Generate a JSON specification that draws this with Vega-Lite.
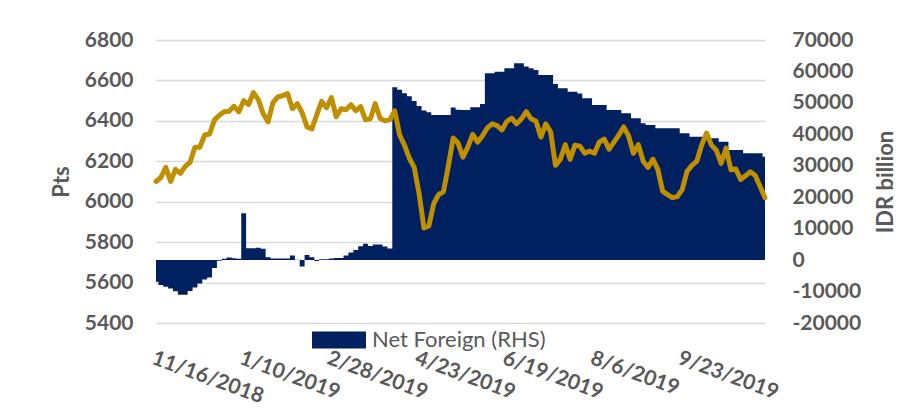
{
  "$schema": "https://vega.github.io/schema/vega-lite/v6.json",
  "width": 609,
  "height": 283,
  "autosize": {"type": "none"},
  "padding": {"left": 156, "top": 40, "right": 155, "bottom": 96},
  "background": "white",
  "config": {"view": {"stroke": null}, "font": "Lato"},
  "data": {"values": [
    {"date": "11/16/2018", "jci": 6100, "nf": -6900},
    {"date": "11/20/2018", "jci": 6120, "nf": -7900},
    {"date": "11/22/2018", "jci": 6170, "nf": -8500},
    {"date": "11/26/2018", "jci": 6100, "nf": -9000},
    {"date": "11/28/2018", "jci": 6160, "nf": -9900},
    {"date": "11/30/2018", "jci": 6140, "nf": -11000},
    {"date": "12/4/2018", "jci": 6175, "nf": -11000},
    {"date": "12/6/2018", "jci": 6195, "nf": -9800},
    {"date": "12/10/2018", "jci": 6270, "nf": -8700},
    {"date": "12/12/2018", "jci": 6270, "nf": -7400},
    {"date": "12/14/2018", "jci": 6330, "nf": -6200},
    {"date": "12/18/2018", "jci": 6335, "nf": -5500},
    {"date": "12/20/2018", "jci": 6405, "nf": -2500},
    {"date": "12/26/2018", "jci": 6428, "nf": -200},
    {"date": "12/28/2018", "jci": 6445, "nf": 400},
    {"date": "1/3/2019", "jci": 6448, "nf": 800},
    {"date": "1/7/2019", "jci": 6472, "nf": 600},
    {"date": "1/8/2019", "jci": 6445, "nf": 400},
    {"date": "1/10/2019", "jci": 6500, "nf": 14900},
    {"date": "1/14/2019", "jci": 6480, "nf": 3800},
    {"date": "1/16/2019", "jci": 6540, "nf": 3800},
    {"date": "1/18/2019", "jci": 6505, "nf": 3900},
    {"date": "1/22/2019", "jci": 6435, "nf": 3600},
    {"date": "1/24/2019", "jci": 6395, "nf": 900},
    {"date": "1/28/2019", "jci": 6490, "nf": 500},
    {"date": "1/30/2019", "jci": 6518, "nf": 500},
    {"date": "2/1/2019", "jci": 6525, "nf": 500},
    {"date": "2/6/2019", "jci": 6535, "nf": 500},
    {"date": "2/8/2019", "jci": 6460, "nf": 1500},
    {"date": "2/12/2019", "jci": 6485, "nf": 100},
    {"date": "2/14/2019", "jci": 6440, "nf": -2000},
    {"date": "2/18/2019", "jci": 6370, "nf": 1600},
    {"date": "2/20/2019", "jci": 6360, "nf": 900},
    {"date": "2/22/2019", "jci": 6430, "nf": -300},
    {"date": "2/25/2019", "jci": 6496, "nf": 300},
    {"date": "2/27/2019", "jci": 6465, "nf": 300},
    {"date": "2/28/2019", "jci": 6515, "nf": 500},
    {"date": "3/4/2019", "jci": 6420, "nf": 700},
    {"date": "3/6/2019", "jci": 6460, "nf": 700},
    {"date": "3/8/2019", "jci": 6455, "nf": 1500},
    {"date": "3/12/2019", "jci": 6480, "nf": 2400},
    {"date": "3/14/2019", "jci": 6450, "nf": 3200},
    {"date": "3/18/2019", "jci": 6470, "nf": 4400},
    {"date": "3/20/2019", "jci": 6405, "nf": 5200},
    {"date": "3/22/2019", "jci": 6410, "nf": 4500},
    {"date": "3/26/2019", "jci": 6485, "nf": 5000},
    {"date": "3/28/2019", "jci": 6413, "nf": 5000},
    {"date": "4/1/2019", "jci": 6400, "nf": 4300},
    {"date": "4/4/2019", "jci": 6405, "nf": 3700},
    {"date": "4/8/2019", "jci": 6450, "nf": 55000},
    {"date": "4/10/2019", "jci": 6330, "nf": 54200},
    {"date": "4/12/2019", "jci": 6280, "nf": 53100},
    {"date": "4/16/2019", "jci": 6215, "nf": 52100},
    {"date": "4/18/2019", "jci": 6170, "nf": 50600},
    {"date": "4/23/2019", "jci": 6040, "nf": 49000},
    {"date": "4/25/2019", "jci": 5870, "nf": 47600},
    {"date": "4/29/2019", "jci": 5880, "nf": 47000},
    {"date": "5/2/2019", "jci": 5990, "nf": 46150},
    {"date": "5/6/2019", "jci": 6035, "nf": 46150},
    {"date": "5/8/2019", "jci": 6050, "nf": 46150},
    {"date": "5/10/2019", "jci": 6175, "nf": 46150},
    {"date": "5/14/2019", "jci": 6315, "nf": 48500},
    {"date": "5/16/2019", "jci": 6290, "nf": 47800},
    {"date": "5/20/2019", "jci": 6220, "nf": 47700},
    {"date": "5/22/2019", "jci": 6270, "nf": 47700},
    {"date": "5/24/2019", "jci": 6333, "nf": 48600},
    {"date": "5/28/2019", "jci": 6295, "nf": 48600},
    {"date": "5/31/2019", "jci": 6325, "nf": 49650},
    {"date": "6/10/2019", "jci": 6365, "nf": 59400},
    {"date": "6/12/2019", "jci": 6385, "nf": 59400},
    {"date": "6/14/2019", "jci": 6376, "nf": 59900},
    {"date": "6/17/2019", "jci": 6355, "nf": 59900},
    {"date": "6/19/2019", "jci": 6397, "nf": 61000},
    {"date": "6/21/2019", "jci": 6413, "nf": 61000},
    {"date": "6/25/2019", "jci": 6385, "nf": 62600},
    {"date": "6/27/2019", "jci": 6410, "nf": 62600},
    {"date": "7/1/2019", "jci": 6445, "nf": 61550},
    {"date": "7/3/2019", "jci": 6410, "nf": 61000},
    {"date": "7/5/2019", "jci": 6398, "nf": 60460},
    {"date": "7/9/2019", "jci": 6320, "nf": 58870},
    {"date": "7/11/2019", "jci": 6385, "nf": 58870},
    {"date": "7/15/2019", "jci": 6345, "nf": 58870},
    {"date": "7/17/2019", "jci": 6180, "nf": 56000},
    {"date": "7/19/2019", "jci": 6210, "nf": 54640},
    {"date": "7/23/2019", "jci": 6282, "nf": 54640},
    {"date": "7/25/2019", "jci": 6210, "nf": 53560},
    {"date": "7/26/2019", "jci": 6280, "nf": 53560},
    {"date": "7/30/2019", "jci": 6275, "nf": 53000},
    {"date": "8/1/2019", "jci": 6240, "nf": 51450},
    {"date": "8/5/2019", "jci": 6250, "nf": 51450},
    {"date": "8/6/2019", "jci": 6240, "nf": 49330},
    {"date": "8/8/2019", "jci": 6295, "nf": 49330},
    {"date": "8/12/2019", "jci": 6310, "nf": 49330},
    {"date": "8/14/2019", "jci": 6260, "nf": 47740},
    {"date": "8/16/2019", "jci": 6295, "nf": 47740},
    {"date": "8/20/2019", "jci": 6330, "nf": 47740},
    {"date": "8/22/2019", "jci": 6370, "nf": 46680},
    {"date": "8/26/2019", "jci": 6325, "nf": 46680},
    {"date": "8/28/2019", "jci": 6240, "nf": 45100},
    {"date": "8/30/2019", "jci": 6282, "nf": 45100},
    {"date": "9/3/2019", "jci": 6200, "nf": 43500},
    {"date": "9/5/2019", "jci": 6170, "nf": 42970},
    {"date": "9/9/2019", "jci": 6210, "nf": 42970},
    {"date": "9/11/2019", "jci": 6160, "nf": 41900},
    {"date": "9/13/2019", "jci": 6052, "nf": 41900},
    {"date": "9/16/2019", "jci": 6035, "nf": 41900},
    {"date": "9/18/2019", "jci": 6020, "nf": 41900},
    {"date": "9/20/2019", "jci": 6025, "nf": 41900},
    {"date": "9/23/2019", "jci": 6060, "nf": 40330},
    {"date": "9/25/2019", "jci": 6150, "nf": 40330},
    {"date": "9/27/2019", "jci": 6180, "nf": 39250},
    {"date": "10/1/2019", "jci": 6200, "nf": 39250},
    {"date": "10/3/2019", "jci": 6280, "nf": 39250},
    {"date": "10/7/2019", "jci": 6340, "nf": 38740},
    {"date": "10/9/2019", "jci": 6280, "nf": 38740},
    {"date": "10/11/2019", "jci": 6255, "nf": 38740},
    {"date": "10/15/2019", "jci": 6190, "nf": 37660},
    {"date": "10/17/2019", "jci": 6265, "nf": 37660},
    {"date": "10/21/2019", "jci": 6158, "nf": 35020},
    {"date": "10/23/2019", "jci": 6162, "nf": 35020},
    {"date": "10/25/2019", "jci": 6110, "nf": 35020},
    {"date": "10/29/2019", "jci": 6128, "nf": 33970},
    {"date": "10/31/2019", "jci": 6148, "nf": 33970},
    {"date": "11/4/2019", "jci": 6130, "nf": 33970},
    {"date": "11/6/2019", "jci": 6075, "nf": 33970},
    {"date": "11/8/2019", "jci": 6020, "nf": 32890}
  ]},
  "encoding": {
    "x": {
      "field": "date",
      "type": "ordinal",
      "sort": null,
      "scale": {"type": "point", "padding": 0},
      "axis": {
        "values": ["11/16/2018", "1/10/2019", "2/28/2019", "4/23/2019", "6/19/2019", "8/6/2019", "9/23/2019"],
        "labelAngle": 20,
        "labelAlign": "left",
        "labelBaseline": "top",
        "labelPadding": 24,
        "ticks": false,
        "domain": false,
        "grid": false,
        "title": null,
        "labelFont": "Lato",
        "labelFontWeight": "bold",
        "labelFontSize": 21,
        "labelColor": "#595959",
        "labelOverlap": false
      }
    }
  },
  "layer": [
    {
      "mark": {"type": "area", "interpolate": "step"},
      "encoding": {
        "y": {
          "field": "nf",
          "type": "quantitative",
          "scale": {"domain": [-20000, 70000], "nice": false, "zero": false},
          "axis": {
            "orient": "right",
            "values": [-20000, -10000, 0, 10000, 20000, 30000, 40000, 50000, 60000, 70000],
            "labelExpr": "toString(datum.value)",
            "grid": false,
            "domain": false,
            "ticks": false,
            "labelPadding": 27,
            "labelFont": "Lato",
            "labelFontWeight": "bold",
            "labelFontSize": 21,
            "labelColor": "#595959",
            "title": "IDR billion",
            "titleAngle": 270,
            "titleFont": "Lato",
            "titleFontSize": 22,
            "titleFontWeight": "bold",
            "titleColor": "#595959",
            "titlePadding": 37
          }
        },
        "color": {
          "datum": "Net Foreign (RHS)",
          "type": "nominal",
          "scale": {"range": ["#002060"]},
          "legend": {
            "orient": "none",
            "legendX": 156,
            "legendY": 273,
            "title": null,
            "padding": 0,
            "symbolType": "M-1,-0.315H1V0.315H-1Z",
            "symbolSize": 2916,
            "symbolStrokeWidth": 0,
            "symbolOpacity": 1,
            "labelFont": "Lato",
            "labelFontSize": 22,
            "labelColor": "#595959",
            "labelOffset": 6,
            "labelLimit": 400
          }
        }
      }
    },
    {
      "mark": {"type": "line", "color": "#BF8F00", "strokeWidth": 5, "strokeJoin": "round", "strokeCap": "round"},
      "encoding": {
        "y": {
          "field": "jci",
          "type": "quantitative",
          "scale": {"domain": [5400, 6800], "nice": false, "zero": false},
          "axis": {
            "orient": "left",
            "values": [5400, 5600, 5800, 6000, 6200, 6400, 6600, 6800],
            "labelExpr": "toString(datum.value)",
            "grid": true,
            "gridColor": "#D9D9D9",
            "gridWidth": 1.5,
            "domain": false,
            "ticks": false,
            "labelPadding": 23,
            "labelFont": "Lato",
            "labelFontWeight": "bold",
            "labelFontSize": 21,
            "labelColor": "#595959",
            "title": "Pts",
            "titleFont": "Lato",
            "titleFontSize": 22,
            "titleFontWeight": "bold",
            "titleColor": "#595959",
            "titlePadding": 11
          }
        }
      }
    }
  ],
  "resolve": {"scale": {"y": "independent"}}
}
